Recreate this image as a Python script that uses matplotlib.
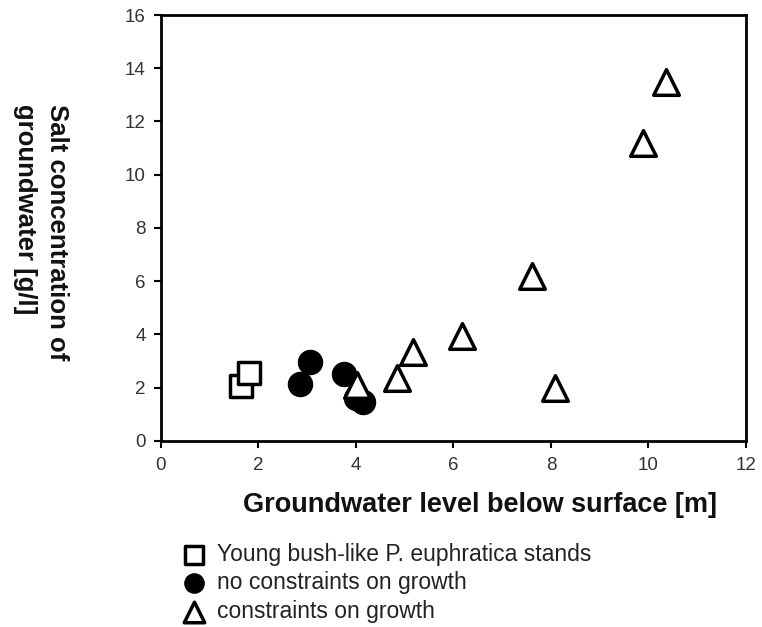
import matplotlib.pyplot as plt

# groundwater level below surface [m], salt concentration [g/l]
young_x = [1.64, 1.80]
young_y = [2.05, 2.55]

free_x = [2.85, 3.05, 3.75, 4.00, 4.15]
free_y = [2.15, 2.95, 2.50, 1.60, 1.45]

constr_x = [4.02, 4.85, 5.18, 6.18, 7.62, 8.08, 9.88, 10.35]
constr_y = [2.10, 2.35, 3.35, 3.95, 6.20, 2.00, 11.20, 13.50]

plt.rcParams['font.family'] = ['Liberation Sans', 'DejaVu Sans']

fig = plt.figure(figsize=(7.62, 6.27), dpi=100)
ax = fig.add_axes([0.211, 0.297, 0.768, 0.679])

ax.scatter(young_x, young_y, marker='s', s=260, facecolors='white', edgecolors='black',
           linewidths=2.5, label='Young bush-like P. euphratica stands', zorder=3)
ax.scatter(free_x, free_y, marker='o', s=300, color='black',
           label='no constraints on growth', zorder=3)
ax.scatter(constr_x, constr_y, marker='^', s=340, facecolors='white', edgecolors='black',
           linewidths=2.5, label='constraints on growth', zorder=4)

ax.set_xlim(0, 12)
ax.set_ylim(0, 16)
ax.set_xticks(range(0, 13, 2))
ax.set_yticks(range(0, 17, 2))
ax.tick_params(direction='out', length=5, width=1.5, labelsize=13.5, labelcolor='#333333')
ax.tick_params(axis='x', pad=7)
ax.tick_params(axis='y', pad=6)
for s in ax.spines.values():
    s.set_linewidth(2)

ax.set_xlabel('Groundwater level below surface [m]', fontsize=19.5, fontweight='bold',
              color='#111111')
ax.xaxis.set_label_coords(0.545, -0.12)

ax.set_ylabel('Salt concentration of\ngroundwater [g/l]', fontsize=18.5, fontweight='bold',
              color='#111111', rotation=-90, ha='center', va='center',
              rotation_mode='anchor', multialignment='left', linespacing=1.4)
ax.yaxis.set_label_coords(-0.205, 0.49)

fig.legend(loc='upper left', bbox_to_anchor=(0.225, 0.153), frameon=False, fontsize=16.5,
           handletextpad=0.5, labelspacing=0.25, borderpad=0, handlelength=1.0,
           markerscale=0.8, labelcolor='#222222')

fig.savefig('out.png', dpi=100)
